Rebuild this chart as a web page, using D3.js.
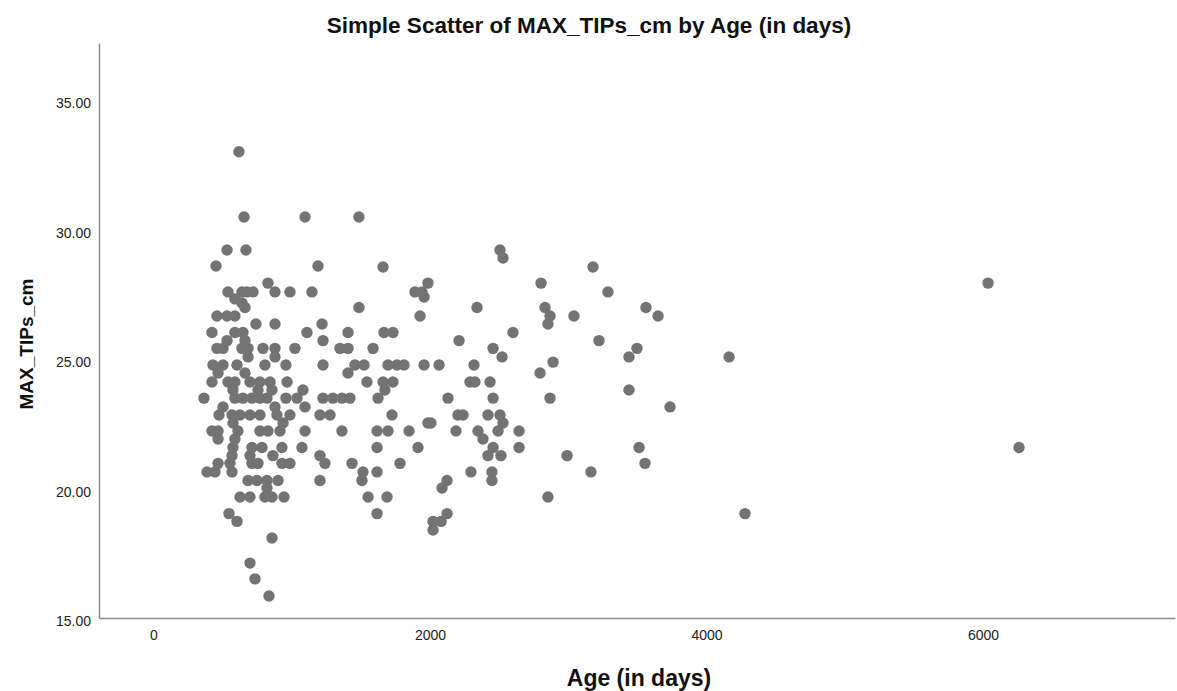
<!DOCTYPE html>
<html>
<head>
<meta charset="utf-8">
<script src="https://cdn.jsdelivr.net/npm/d3@7"></script>
<style>
  body { margin: 0; background: #fff; }
  text { font-family: "Liberation Sans", Arial, sans-serif; }
</style>
</head>
<body>
<div id="chart"></div>
<script>
// Age (in days) and MAX_TIPs_cm
var ageDays = [
    618, 655, 1096, 1486, 532, 669, 452, 1190, 1660, 828,
    539, 640, 676, 720, 879, 987, 1146, 589, 640, 662, 1486,
    459, 532, 589, 741, 879, 1219, 423, 589, 647, 1110, 1407,
    532, 662, 1226,
    459, 503, 640, 684, 792, 879, 1023, 1349, 1407,
    684, 879,
    430, 503, 604, 806, 958, 1226, 1457,
    467, 662, 1407,
    423, 539, 589, 698, 770, 843, 966,
    575, 756, 857, 1081,
    365, 589, 647, 712, 770, 821, 958, 1038, 1226, 1298, 1363, 1421,
    503, 879, 1096,
    474, 568, 626, 698, 770, 893, 987, 1204, 1277,
    575, 937,
    423, 467, 611, 770, 828, 915, 1096, 1363,
    467, 589,
    575, 712, 785, 929, 1074,
    568, 698, 864, 1204,
    467, 553, 712, 756, 929, 987, 1240, 1436,
    387, 445, 568,
    684, 749, 821, 901, 1204,
    821,
    626, 698, 806, 857, 944,
    546, 604, 857, 698, 734, 835,
    2506, 2528, 1891, 1942, 1985, 1957, 2803, 2340, 2832, 2868, 2853, 1928,
    1667, 1732, 2600, 1588, 2210, 2456, 2521,
    1523, 1696, 1761, 1812, 1957, 2065, 2318, 2890,
    2796, 1544, 1660, 1732, 2289, 2325, 2434, 1674,
    1624, 2130, 2456, 2868,
    1725, 2202, 2239, 2419, 2506,
    1985, 2007, 2528,
    1617, 1696, 1848, 2188, 2347, 2492, 2644,
    2383, 1617, 1913, 2456, 2644,
    2419, 2513, 1783,
    1515, 1617, 2296, 2448,
    1508, 2448, 2123, 2087,
    1552, 1689, 2853,
    1617, 2123, 2022, 2080, 2022,
    3179, 3287, 3041, 3562, 3649, 3222, 3497, 3439, 4163, 3439, 3736,
    3512, 3555, 2991, 3164, 6036, 6260, 4278
]

var maxTips = [
    33.00, 30.48, 30.48, 30.48, 29.21, 29.21, 28.59, 28.59, 28.55, 27.93,
    27.59, 27.59, 27.59, 27.59, 27.59, 27.59, 27.59, 27.32, 27.16, 26.99, 26.99,
    26.66, 26.66, 26.66, 26.35, 26.35, 26.35, 26.02, 26.02, 26.02, 26.02, 26.02,
    25.71, 25.71, 25.71,
    25.41, 25.41, 25.41, 25.41, 25.41, 25.41, 25.41, 25.41, 25.41,
    25.08, 25.08,
    24.77, 24.77, 24.77, 24.77, 24.77, 24.77, 24.77,
    24.46, 24.46, 24.46,
    24.11, 24.11, 24.11, 24.11, 24.11, 24.11, 24.11,
    23.80, 23.80, 23.80, 23.80,
    23.49, 23.49, 23.49, 23.49, 23.49, 23.49, 23.49, 23.49, 23.49, 23.49, 23.49, 23.49,
    23.15, 23.15, 23.15,
    22.84, 22.84, 22.84, 22.84, 22.84, 22.84, 22.84, 22.84, 22.84,
    22.53, 22.53,
    22.22, 22.22, 22.22, 22.22, 22.22, 22.22, 22.22, 22.22,
    21.91, 21.91,
    21.58, 21.58, 21.58, 21.58, 21.58,
    21.27, 21.27, 21.27, 21.27,
    20.97, 20.97, 20.97, 20.97, 20.97, 20.97, 20.97, 20.97,
    20.64, 20.64, 20.64,
    20.31, 20.31, 20.31, 20.31, 20.31,
    20.02,
    19.67, 19.67, 19.67, 19.67, 19.67,
    19.03, 18.73, 18.09, 17.12, 16.51, 15.85,
    29.21, 28.90, 27.59, 27.59, 27.93, 27.39, 27.93, 26.99, 26.99, 26.66, 26.35, 26.66,
    26.02, 26.02, 26.02, 25.41, 25.71, 25.41, 25.08,
    24.77, 24.77, 24.77, 24.77, 24.77, 24.77, 24.77, 24.88,
    24.46, 24.11, 24.11, 24.11, 24.11, 24.11, 24.11, 23.80,
    23.49, 23.49, 23.49, 23.49,
    22.84, 22.84, 22.84, 22.84, 22.84,
    22.53, 22.53, 22.53,
    22.22, 22.22, 22.22, 22.22, 22.22, 22.22, 22.22,
    21.91, 21.58, 21.58, 21.58, 21.58,
    21.27, 21.27, 20.97,
    20.64, 20.64, 20.64, 20.64,
    20.31, 20.31, 20.31, 20.02,
    19.67, 19.67, 19.67,
    19.03, 19.03, 18.73, 18.73, 18.40,
    28.55, 27.59, 26.66, 26.99, 26.66, 25.71, 25.41, 25.08, 25.08, 23.80, 23.15,
    21.58, 20.97, 21.27, 20.64, 27.93, 21.58, 19.03
]

var xTicks = [0, 2000, 4000, 6000]
var yTicks = [15, 20, 25, 30, 35]

var title = "Simple Scatter of MAX_TIPs_cm by Age (in days)"
var xLabel = "Age (in days)"
var yLabel = "MAX_TIPs_cm"

function draw_chart() {
    var width = 1177
    var height = 691
    var margin = {top: 43, right: 2, bottom: 73, left: 99}

    var svg = d3.select("#chart")
        .append("svg")
        .attr("width", width)
        .attr("height", height)

    var x = d3.scaleLinear()
        .domain([-394, 7388])
        .range([margin.left, width - margin.right])

    var y = d3.scaleLinear()
        .domain([15, 37.2])
        .range([height - margin.bottom, margin.top])

    var points = ageDays.map((d, i) => { return {age: d, tips: maxTips[i]} })

    svg.append("g")
        .attr("transform", "translate(0," + (height - margin.bottom) + ")")
        .call(d3.axisBottom(x)
            .tickValues(xTicks)
            .tickFormat(d3.format("d"))
            .tickSize(0)
            .tickPadding(12))

    svg.append("g")
        .attr("class", "yaxis")
        .attr("transform", "translate(" + margin.left + ",0)")
        .call(d3.axisLeft(y)
            .tickValues(yTicks)
            .tickFormat(d3.format(".2f"))
            .tickSize(0)
            .tickPadding(8))

    svg.selectAll(".yaxis .tick text").attr("dy", "0.55em")

    svg.selectAll(".domain")
        .attr("stroke", "#8c8c8c")
        .attr("stroke-width", 1.5)

    svg.selectAll(".tick text")
        .attr("fill", "#222")
        .style("font-family", "'Liberation Sans', Arial, sans-serif")
        .style("font-size", "14px")

    svg.append("g")
        .selectAll("circle")
        .data(points)
        .enter()
        .append("circle")
        .attr("cx", (d) => x(d.age))
        .attr("cy", (d) => y(d.tips))
        .attr("r", 5.7)
        .attr("fill", "#737373")

    svg.append("text")
        .attr("x", 589)
        .attr("y", 33)
        .attr("text-anchor", "middle")
        .style("font-size", "22.5px")
        .style("font-weight", "bold")
        .attr("fill", "#111")
        .text(title)

    svg.append("text")
        .attr("x", 639)
        .attr("y", 686)
        .attr("text-anchor", "middle")
        .style("font-size", "23px")
        .style("font-weight", "bold")
        .attr("fill", "#111")
        .text(xLabel)

    svg.append("text")
        .attr("transform", "translate(33,344) rotate(-90)")
        .attr("text-anchor", "middle")
        .style("font-size", "19px")
        .style("font-weight", "bold")
        .attr("fill", "#111")
        .text(yLabel)
}

draw_chart()
</script>
</body>
</html>
